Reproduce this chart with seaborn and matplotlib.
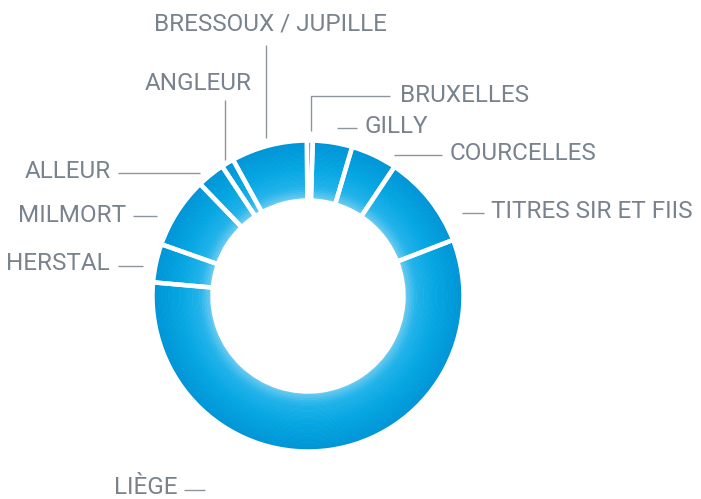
import numpy as np
import matplotlib
matplotlib.use("Agg")
import matplotlib.pyplot as plt
from matplotlib import font_manager
from matplotlib.colors import LinearSegmentedColormap
import seaborn as sns

# ---- data (clockwise from 12 o'clock) ----
categories = ["BRUXELLES", "GILLY", "COURCELLES", "TITRES SIR ET FIIS", "LIÈGE",
              "HERSTAL", "MILMORT", "ALLEUR", "ANGLEUR", "BRESSOUX / JUPILLE"]
shares = [0.6, 4.1, 4.8, 9.75, 57.3, 4.0, 7.4, 2.9, 1.3, 7.9]

sns.set_style("white")
names = {f.name for f in font_manager.fontManager.ttflist}
fam = "Liberation Sans Narrow" if "Liberation Sans Narrow" in names else "Roboto"
plt.rcParams["font.family"] = [fam, "DejaVu Sans"]

W, H = 701, 499
fig = plt.figure(figsize=(W / 100, H / 100), dpi=100)
ax = fig.add_axes([0, 0, 1, 1])

cx, cy = 308, 499 - 296
R_out, R_in = 154, 97

# radial gradient rings
cmap = LinearSegmentedColormap.from_list(
    "g", [(0.0, "#0094D6"), (0.45, "#05A6E2"), (0.8, "#22B3EA"), (1.0, "#6CCBF1")])
n = 24
radii = np.linspace(R_out, R_in, n + 1)
for i in range(n):
    r = radii[i]
    t = (i + 0.5) / n
    ax.pie(shares, radius=r, center=(cx, cy), startangle=90.4, counterclock=False,
           colors=[cmap(t)] * len(shares),
           wedgeprops=dict(width=r - radii[i + 1] + 0.6, linewidth=0, antialiased=True))
# white separators
ax.pie(shares, radius=R_out + 1.5, center=(cx, cy), startangle=90.4, counterclock=False,
       colors=["none"] * len(shares),
       wedgeprops=dict(width=R_out - R_in + 3, edgecolor="white", linewidth=3.2, fill=False))

gray = "#78838E"
fs = 17.5
layout = {
    "BRESSOUX / JUPILLE": (270, 24, "center", [(266, 45), (266, 138)]),
    "ANGLEUR": (198, 83, "center", [(225, 100), (225, 160)]),
    "BRUXELLES": (400, 95, "left", [(390, 96), (311, 96), (311, 131)]),
    "GILLY": (365, 126, "left", [(337, 128), (357, 128)]),
    "COURCELLES": (450, 153, "left", [(394, 155), (442, 155)]),
    "TITRES SIR ET FIIS": (491, 211, "left", [(462, 213), (484, 213)]),
    "ALLEUR": (111, 171, "right", [(118, 173), (200, 173)]),
    "MILMORT": (126, 215, "right", [(133, 216), (157, 216)]),
    "HERSTAL": (110, 264, "right", [(118, 266), (143, 266)]),
    "LIÈGE": (178, 488, "right", [(184, 490), (205, 490)]),
}
for name in categories:
    x, y, ha, pts = layout[name]
    ax.text(x, H - y, name, ha=ha, va="center", fontsize=fs, color=gray)
    xs = [p[0] for p in pts]
    ys = [H - p[1] for p in pts]
    ax.plot(xs, ys, color="#8C959D", lw=1.0, solid_capstyle="butt")

ax.set_xlim(0, W)
ax.set_ylim(0, H)
ax.set_aspect("equal")
ax.axis("off")
fig.savefig("out.png", dpi=100)
